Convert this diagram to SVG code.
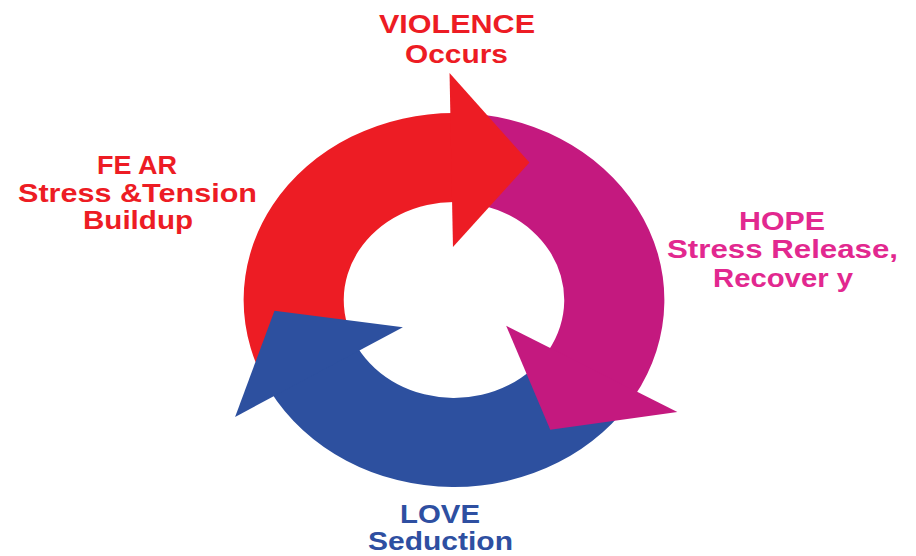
<svg xmlns="http://www.w3.org/2000/svg" width="916" height="556" viewBox="0 0 916 556">
  <style>
    .lbl { font-family: "Liberation Sans", Arial, Helvetica, sans-serif; font-weight: bold; font-size: 26px; text-anchor: middle; }
    .red { fill: #ED1C24; }
    .pink { fill: #E2288F; }
    .blue { fill: #2E4FA1; }
    .arc-red, .head-red { fill: #ED1C24; }
    .arc-mag, .head-mag { fill: #C4197F; }
    .arc-blue, .head-blue { fill: #2D509F; }
  </style>

  <rect width="916" height="556" fill="#FFFFFF"/>

  <!-- cycle ring: three curved arrows on an ellipse (circle scaled horizontally) -->
  <g id="cycle" transform="translate(454,300) scale(1.125,1)">
    <g id="connectors">
      <!-- arrow bodies (annular sectors), drawn first so every head lies above the next body -->
      <path id="arc-fear" class="arc-red" d="M -161.95 93.5 A 187 187 0 0 1 3.26 -186.97 L 1.71 -97.99 A 98 98 0 0 0 -84.87 49 Z"/>
      <path id="arc-hope" class="arc-mag" d="M 0 -187 A 187 187 0 0 1 160.29 96.31 L 84 50.47 A 98 98 0 0 0 0 -98 Z"/>
      <path id="arc-love" class="arc-blue" d="M 161.95 93.5 A 187 187 0 0 1 -163.55 90.66 L -85.71 47.51 A 98 98 0 0 0 84.87 49 Z"/>
      <!-- arrowheads -->
      <path id="head-fear" class="head-red" d="M -3.96 -226.97 L 67.07 -137.52 L -0.92 -52.99 Z"/>
      <path id="head-hope" class="head-mag" d="M 198.54 112.05 L 85.56 129.84 L 46.35 25.69 Z"/>
      <path id="head-love" class="head-blue" d="M -194.58 116.91 L -159.6 10.67 L -45.43 27.3 Z"/>
    </g>
  </g>

  <!-- stage labels -->
  <g id="violence">
    <text class="lbl red"><tspan x="457" y="33" textLength="156" lengthAdjust="spacingAndGlyphs">VIOLENCE</tspan><tspan x="456.5" y="63" textLength="103" lengthAdjust="spacingAndGlyphs">Occurs</tspan></text>
  </g>
  <g id="fear">
    <text class="lbl red"><tspan x="137" y="174" textLength="80" lengthAdjust="spacingAndGlyphs">FE AR</tspan><tspan x="137.5" y="202" textLength="239" lengthAdjust="spacingAndGlyphs">Stress &amp;Tension</tspan><tspan x="138" y="229" textLength="110" lengthAdjust="spacingAndGlyphs">Buildup</tspan></text>
  </g>
  <g id="hope">
    <text class="lbl pink"><tspan x="782" y="230" textLength="86" lengthAdjust="spacingAndGlyphs">HOPE</tspan><tspan x="782.5" y="258" textLength="231" lengthAdjust="spacingAndGlyphs">Stress Release,</tspan><tspan x="783" y="287" textLength="140" lengthAdjust="spacingAndGlyphs">Recover y</tspan></text>
  </g>
  <g id="love">
    <text class="lbl blue"><tspan x="440" y="523" textLength="80" lengthAdjust="spacingAndGlyphs">LOVE</tspan><tspan x="440.5" y="550" textLength="145" lengthAdjust="spacingAndGlyphs">Seduction</tspan></text>
  </g>
</svg>
